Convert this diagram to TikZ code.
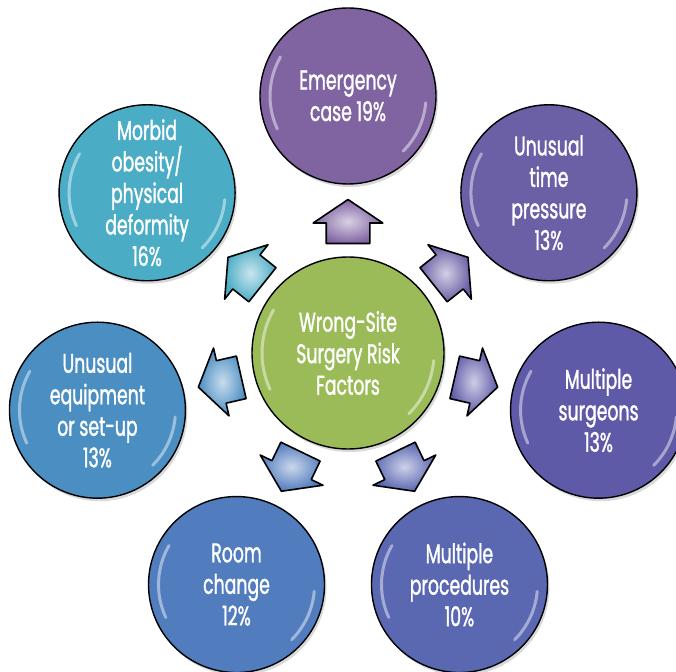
\documentclass[tikz,border=0pt]{standalone}
\usepackage{fontspec}
\setmainfont{Poppins}[FakeStretch=0.64,FakeBold=1.2]
\usetikzlibrary{shapes.arrows,shadows,calc}

\definecolor{hubcol}{HTML}{9BBB59}
\definecolor{emcol}{HTML}{8064A2}
\definecolor{timecol}{HTML}{6B5FA5}
\definecolor{surgcol}{HTML}{5F5AA8}
\definecolor{proccol}{HTML}{5A67B1}
\definecolor{roomcol}{HTML}{517CBD}
\definecolor{equipcol}{HTML}{4A8EC2}
\definecolor{obescol}{HTML}{4BACC6}

\begin{document}
\begin{tikzpicture}[x=1pt,y=1pt,
    main node/.style={circle,draw,line width=1.4pt,minimum size=176pt,inner sep=0pt,
      fill=#1,text=white,align=center,font=\fontsize{27}{31.5}\selectfont,
      drop shadow={opacity=0.3,shadow xshift=2pt,shadow yshift=-3pt}},
    risk arrow/.style={single arrow,draw,line width=1.6pt,line join=round,
      inner xsep=0pt,inner ysep=21pt,minimum height=44pt,single arrow head extend=13pt,
      single arrow tip angle=112,inner color=#1!30!white,outer color=#1},
    gloss/.style={white,opacity=0.45,line width=3pt,line cap=round}]

  \useasboundingbox (0,0) rectangle (676,671);

  \node[main node=hubcol, minimum size=192pt] (0) at (348,318) {Wrong-Site\\Surgery Risk\\Factors};

  \node[main node=emcol] (1) at ($(0)+(90:257)$) {Emergency\\case 19\%};
  \node[main node=timecol] (2) at ($(0)+(38.57:257)$) {Unusual\\time\\pressure\\13\%};
  \node[main node=surgcol] (3) at ($(0)+(-12.86:257)$) {Multiple\\surgeons\\13\%};
  \node[main node=proccol] (4) at ($(0)+(-64.29:257)$) {Multiple\\procedures\\10\%};
  \node[main node=roomcol] (5) at ($(0)+(-115.71:257)$) {Room\\change\\12\%};
  \node[main node=equipcol] (6) at ($(0)+(-167.14:257)$) {Unusual\\equipment\\or set-up\\13\%};
  \node[main node=obescol] (7) at ($(0)+(141.43:257)$) {Morbid\\obesity/\\physical\\deformity\\16\%};

  % glossy rims
  \draw[gloss] ($(0)+(150:86)$) arc[start angle=150,end angle=205,radius=86];
  \draw[gloss] ($(0)+(-45:86)$) arc[start angle=-45,end angle=-5,radius=86];
  \foreach \n in {1,...,7} {
    \draw[gloss] ($(\n)+(150:78)$) arc[start angle=150,end angle=205,radius=78];
    \draw[gloss] ($(\n)+(-45:78)$) arc[start angle=-45,end angle=-5,radius=78];
  }

  \node[risk arrow=emcol, rotate=90] (a1) at ($(0)!0.483!(1)$) {};
  \node[risk arrow=timecol, rotate=38.57] (a2) at ($(0)!0.483!(2)$) {};
  \node[risk arrow=surgcol, rotate=-12.86] (a3) at ($(0)!0.483!(3)$) {};
  \node[risk arrow=proccol, rotate=-64.29] (a4) at ($(0)!0.483!(4)$) {};
  \node[risk arrow=roomcol, rotate=-115.71] (a5) at ($(0)!0.483!(5)$) {};
  \node[risk arrow=equipcol, rotate=-167.14] (a6) at ($(0)!0.483!(6)$) {};
  \node[risk arrow=obescol, rotate=141.43] (a7) at ($(0)!0.483!(7)$) {};

\end{tikzpicture}
\end{document}
